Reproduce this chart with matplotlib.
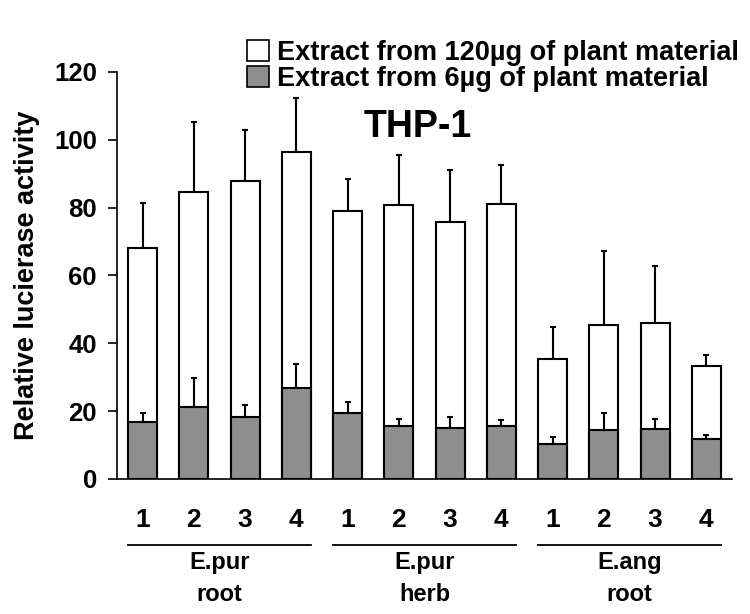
import numpy as np
import matplotlib.pyplot as plt
from matplotlib.patches import Patch

plt.rcParams['font.family'] = ['Liberation Sans', 'DejaVu Sans']
plt.rcParams['font.weight'] = 'bold'

# datos
muestras = ['1', '2', '3', '4'] * 3
grupos = ['E.pur\nroot', 'E.pur\nherb', 'E.ang\nroot']
alta = [68.1, 84.6, 87.9, 96.3, 78.9, 80.7, 75.8, 81.1, 35.4, 45.3, 45.9, 33.2]
alta_err = [13.4, 20.6, 15.0, 16.0, 9.5, 14.9, 15.4, 11.6, 9.4, 22.0, 17.0, 3.5]
baja = [16.8, 21.2, 18.3, 26.8, 19.5, 15.7, 15.1, 15.5, 10.3, 14.5, 14.8, 11.7]
baja_err = [2.8, 8.5, 3.4, 7.1, 3.2, 2.0, 3.3, 2.0, 2.1, 5.1, 2.8, 1.3]
etiquetas = ['Extract from 120µg of plant material', 'Extract from 6µg of plant material']

gris = '#8e8e8e'
x = np.arange(len(alta))
ancho = 0.57

fig = plt.figure(figsize=(7.5, 6.14), dpi=100)
ax = fig.add_axes([0.156, 0.2199, 0.82, 0.6629])

ax.bar(x, alta, width=ancho, color='white', edgecolor='black', lw=1.5, zorder=2)
ax.errorbar(x, alta, yerr=[np.zeros(len(alta)), alta_err], fmt='none', ecolor='black',
            elinewidth=1.5, capsize=2.5, capthick=1.5, zorder=1)
ax.bar(x, baja, width=ancho, color=gris, edgecolor='black', lw=1.5, zorder=3)
ax.errorbar(x, baja, yerr=[np.zeros(len(baja)), baja_err], fmt='none', ecolor='black',
            elinewidth=1.5, capsize=2.5, capthick=1.5, zorder=4)

ax.set_xlim(-0.5, 11.5)
ax.set_ylim(0, 120)
ax.set_yticks(range(0, 121, 20))
ax.tick_params(axis='y', labelsize=18.5, length=6.5, width=1.2, direction='out', pad=8)
ax.set_xticks(x)
ax.set_xticklabels(muestras, fontsize=19, fontweight='bold')
ax.tick_params(axis='x', length=0, pad=21)
for s in ['top', 'right']:
    ax.spines[s].set_visible(False)
ax.spines['left'].set_linewidth(1.2)
ax.spines['bottom'].set_linewidth(1.2)

ax.set_ylabel('Relative lucierase activity', fontsize=19.5, fontweight='bold', labelpad=10)

# lineas y nombres de grupos
trans = ax.get_xaxis_transform()
for i, g in enumerate(grupos):
    ini = i * 4 - ancho / 2
    fin = i * 4 + 3 + ancho / 2
    ax.plot([ini, fin], [-0.162, -0.162], color='black', lw=1.3, transform=trans, clip_on=False)
    ax.text((ini + fin) / 2, -0.178, g, transform=trans, ha='center', va='top',
            fontsize=17, fontweight='bold', linespacing=1.45)

fig.text(0.557, 1 - 127 / 614, 'THP-1', ha='center', va='center', fontsize=27, fontweight='bold')

handles = [Patch(facecolor='white', edgecolor='black', lw=1.2),
           Patch(facecolor=gris, edgecolor='black', lw=1.2)]
fig.legend(handles, etiquetas, loc='upper left', bbox_to_anchor=(247 / 750, 1 - 40 / 614),
           frameon=False, handlelength=0.8, handleheight=0.8,
           handletextpad=0.3, labelspacing=0.0, borderpad=0, borderaxespad=0,
           prop={'weight': 'bold', 'size': 19.5})

plt.savefig('out.png', dpi=100)
